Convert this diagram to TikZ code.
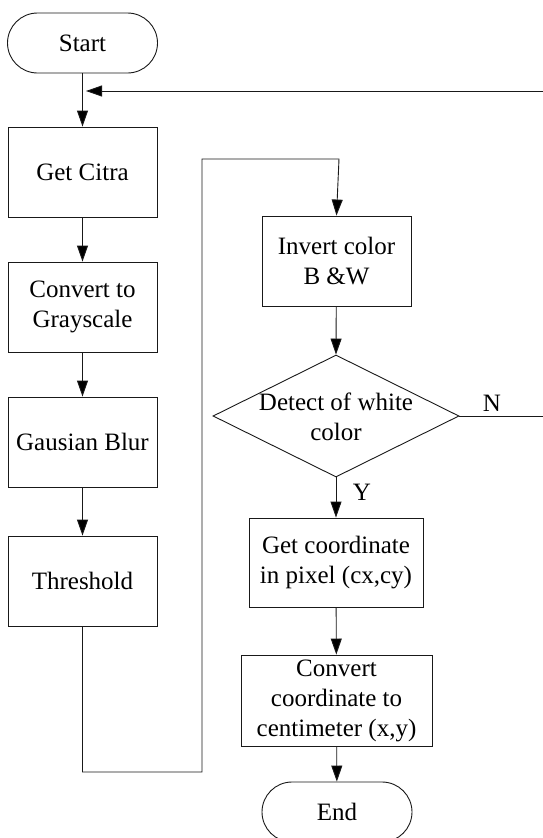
\documentclass[tikz,border=0pt]{standalone}
\usepackage{fontspec}
\setmainfont{Liberation Serif}
\usetikzlibrary{arrows.meta,shapes.geometric}
\newcommand{\fcfont}{\fontsize{25}{30}\selectfont}
\tikzset{
  fcbox/.style={draw=black!90, line width=0.9pt, rectangle, inner sep=0pt, align=center, font=\fcfont},
  fcterm/.style={draw=black!90, line width=0.9pt, rectangle, rounded corners=30pt, minimum width=150pt, minimum height=60pt, inner sep=0pt, font=\fcfont},
  fcdec/.style={draw=black!90, line width=0.9pt, diamond, minimum width=246pt, minimum height=122pt, inner sep=0pt},
  fclabel/.style={font=\fcfont, inner sep=0pt, align=center},
  fcarr/.style={draw=black!90, line width=0.9pt, -{Triangle[length=16pt,width=11pt,fill=black]}},
}
\begin{document}
\begin{tikzpicture}[x=1pt,y=-1pt]
\useasboundingbox[fill=white] (0,0) rectangle (542,838);
% left column
\node[fcterm] (start) at (82.5,43) {Start};
\node[fcbox, minimum width=149pt, minimum height=90pt] (citra) at (82.5,172) {Get Citra};
\node[fcbox, minimum width=149pt, minimum height=90pt] (gray) at (82.5,307) {Convert to\\Grayscale};
\node[fcbox, minimum width=149pt, minimum height=90pt] (blur) at (82.5,442) {Gausian Blur};
\node[fcbox, minimum width=149pt, minimum height=90pt] (thr) at (82.5,581) {Threshold};
% right column
\node[fcbox, minimum width=149pt, minimum height=90pt] (inv) at (336.5,261) {Invert color\\B \&W};
\node[fcdec] (dec) at (336,416) {};
\node[fclabel] (dectext) at (336,417) {Detect of white\\color};
\node[fcbox, minimum width=174pt, minimum height=89pt] (gc) at (336,562.5) {Get coordinate\\in pixel (cx,cy)};
\node[fcbox, minimum width=191pt, minimum height=91pt] (conv) at (336.5,700.5) {Convert\\coordinate to\\centimeter (x,y)};
\node[fcterm] (end) at (337,812) {End};
% labels
\node[fclabel] (nlab) at (492,403) {N};
\node[fclabel] (ylab) at (362,492) {Y};
% helper coordinates
\coordinate (tip) at (86,91);
\coordinate (rtop) at (548,91);
\coordinate (rbot) at (548,416);
\coordinate (lb) at (202,772);
\coordinate (lt) at (202,159);
\coordinate (rt) at (339,159);
% connectors
\draw[fcarr] (start) -- (citra);
\draw[fcarr] (citra) -- (gray);
\draw[fcarr] (gray) -- (blur);
\draw[fcarr] (blur) -- (thr);
\draw[fcarr] (thr.south) |- (lb) -- (lt) -- (rt) -- (inv.north);
\draw[fcarr] (inv) -- (dec.north);
\draw[fcarr] (dec.south) -- (gc.north);
\draw[fcarr] (gc) -- (conv);
\draw[fcarr] (conv) -- (end);
\draw[fcarr] (dec.east) -- (rbot) -- (rtop) -- (tip);
\end{tikzpicture}
\end{document}
